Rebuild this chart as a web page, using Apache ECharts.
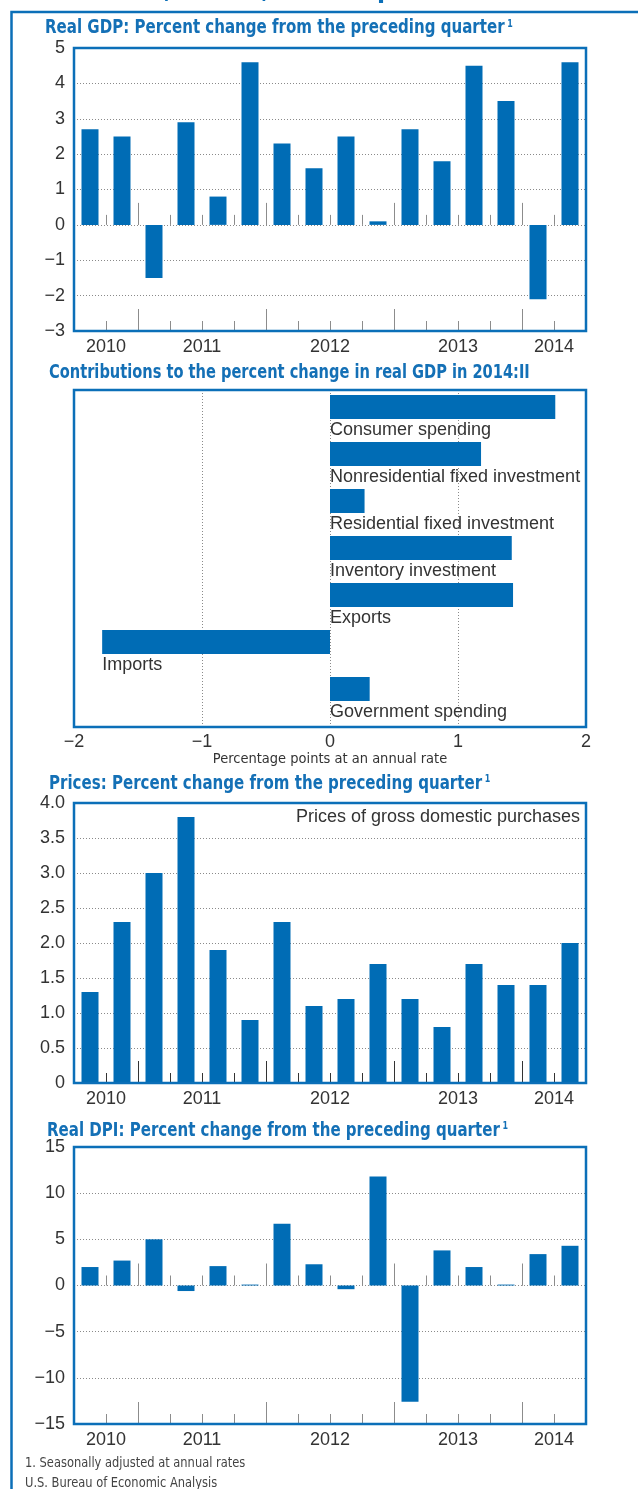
<!DOCTYPE html>
<html>
<head>
<meta charset="utf-8">
<title>Real GDP, prices and real DPI</title>
<script src="https://cdn.jsdelivr.net/npm/echarts@6/dist/echarts.min.js"></script>
<style>
  html, body { margin: 0; padding: 0; background: #fff; }
  #chart { width: 638px; height: 1489px; }
</style>
</head>
<body>
<div id="chart"></div>
<script>
// quarters shown on the three time panels
var quarters = ['2010 Q3', '2010 Q4',
  '2011 Q1', '2011 Q2', '2011 Q3', '2011 Q4',
  '2012 Q1', '2012 Q2', '2012 Q3', '2012 Q4',
  '2013 Q1', '2013 Q2', '2013 Q3', '2013 Q4',
  '2014 Q1', '2014 Q2'];

var gdpGrowth = [2.7, 2.5, -1.5, 2.9, 0.8, 4.6, 2.3, 1.6, 2.5, 0.1, 2.7, 1.8, 4.5, 3.5, -2.1, 4.6];
var priceGrowth = [1.3, 2.3, 3.0, 3.8, 1.9, 0.9, 2.3, 1.1, 1.2, 1.7, 1.2, 0.8, 1.7, 1.4, 1.4, 2.0];
var dpiGrowth = [2.0, 2.7, 5.0, -0.6, 2.1, 0.1, 6.7, 2.3, -0.4, 11.8, -12.6, 3.8, 2.0, 0.1, 3.4, 4.3];

var contribNames = ['Consumer spending', 'Nonresidential fixed investment',
  'Residential fixed investment', 'Inventory investment', 'Exports', 'Imports',
  'Government spending'];
var contribValues = [1.76, 1.18, 0.27, 1.42, 1.43, -1.78, 0.31];

// axis ranges: [min, max, step]
var gdpRange = [-3, 5, 1];
var contribRange = [-2, 2, 1];
var priceRange = [0, 4, 0.5];
var dpiRange = [-15, 15, 5];

var BLUE = '#0b6fb8';
var BAR = '#006cb5';
var TITLE = '#1470b6';
var TEXT = '#333';
var FONT = '"Liberation Sans", Arial, sans-serif';
var NARROW = '"DejaVu Sans Condensed", sans-serif';

// year label sits in the middle of that year's quarters
var yearIdx = {};
quarters.forEach(function (q, i) {
  var y = q.slice(0, 4);
  (yearIdx[y] = yearIdx[y] || []).push(i);
});
function yearAt(v) {
  for (var y in yearIdx) {
    var a = yearIdx[y];
    if ((a[0] + a[a.length - 1] + 1) / 2 === v) return y;
  }
  return '';
}
function isYearStart(i, val) { return /Q1$/.test(val); }
function minus(v) { return String(v).replace('-', '\u2212'); }

var grids = [], xAxes = [], yAxes = [], series = [];

function gridBox(top, height) {
  return {left: 74, right: 52, top: top, height: height, show: true, z: 5,
    borderColor: BLUE, borderWidth: 2.5, backgroundColor: 'transparent'};
}
function dotted() {
  return {show: true, lineStyle: {color: '#8a8a8a', type: [1, 2], width: 1}};
}

function quarterPanel(top, height, values, range, fmt, tickColor, zeroTicks) {
  var g = grids.length;
  grids.push(gridBox(top, height));
  var yi = yAxes.length;
  yAxes.push({type: 'value', gridIndex: g, min: range[0], max: range[1], interval: range[2],
    axisLine: {show: false}, axisTick: {show: false},
    axisLabel: {color: TEXT, fontSize: 18, fontFamily: FONT, margin: 9, formatter: fmt},
    splitLine: dotted()});
  var barAxis = xAxes.length;
  function tickAxis(onZero, tall) {
    return {type: 'category', gridIndex: g, data: quarters, position: 'bottom', boundaryGap: true,
      axisLine: {show: false, onZero: onZero, onZeroAxisIndex: yi},
      axisTick: {show: true, inside: true, length: tall ? 22 : 10,
        interval: tall ? isYearStart : 0, lineStyle: {color: tickColor, width: 1}},
      axisLabel: {show: false}, splitLine: {show: false}};
  }
  if (zeroTicks) {
    xAxes.push(tickAxis(true, false));
    xAxes.push(tickAxis(true, true));
  }
  xAxes.push(tickAxis(false, false));
  xAxes.push(tickAxis(false, true));
  xAxes.push({type: 'value', gridIndex: g, min: 0, max: quarters.length, interval: 1,
    position: 'bottom', axisLine: {show: false, onZero: false}, axisTick: {show: false},
    splitLine: {show: false},
    axisLabel: {color: TEXT, fontSize: 18, fontFamily: FONT, margin: 7, formatter: yearAt}});
  series.push({type: 'bar', xAxisIndex: barAxis, yAxisIndex: yi, data: values,
    barWidth: 17, itemStyle: {color: BAR}, silent: true});
}

// panel 1: real GDP
quarterPanel(48, 283, gdpGrowth, gdpRange, minus, '#8c8c8c', true);

// panel 2: contributions (frame grid + bar grid)
var gFrame = grids.length;
grids.push(gridBox(390, 337));
yAxes.push({type: 'value', gridIndex: gFrame, min: 0, max: 1, show: false});
xAxes.push({type: 'value', gridIndex: gFrame, min: contribRange[0], max: contribRange[1],
  interval: contribRange[2], position: 'bottom',
  axisLine: {show: false, onZero: false}, axisTick: {show: false},
  axisLabel: {color: TEXT, fontSize: 18, fontFamily: FONT, margin: 6, formatter: minus},
  splitLine: dotted(),
  name: 'Percentage points at an annual rate', nameLocation: 'middle', nameGap: 24,
  nameTextStyle: {color: TEXT, fontSize: 14.5, fontFamily: NARROW}});
var gBars = grids.length;
grids.push({left: 74, right: 52, top: 383.5, height: 329, show: false});
var cy = yAxes.length;
yAxes.push({type: 'category', gridIndex: gBars, data: contribNames, inverse: true, show: false});
var cx = xAxes.length;
xAxes.push({type: 'value', gridIndex: gBars, min: contribRange[0], max: contribRange[1], show: false});
series.push({type: 'bar', xAxisIndex: cx, yAxisIndex: cy, data: contribValues, barWidth: 24,
  itemStyle: {color: BAR}, silent: true,
  label: {show: true, position: [0, 26], color: TEXT, fontSize: 18, fontFamily: FONT,
    formatter: function (p) { return p.name; }}});

// panel 3: prices
quarterPanel(803, 280, priceGrowth, priceRange,
  function (v) { return v === 0 ? '0' : v.toFixed(1); }, '#333', false);

// panel 4: real DPI
quarterPanel(1147, 277, dpiGrowth, dpiRange, minus, '#8c8c8c', true);

function title(x, y, text, sup, sx) {
  return {type: 'text', x: x, y: y, z: 10, scaleX: sx || 0.88, style: {
    text: '{t|' + text + '}' + (sup ? '{s|1}' : ''),
    textVerticalAlign: 'middle',
    rich: {
      t: {fill: TITLE, fontSize: 19, fontWeight: 'bold', fontFamily: NARROW},
      s: {fill: TITLE, fontSize: 10, fontWeight: 'bold', fontFamily: NARROW,
        verticalAlign: 'top', padding: [0, 0, 0, 3]}
    }}};
}
function note(y, text) {
  return {type: 'text', x: 25, y: y, z: 10, scaleX: 0.91, style: {text: text,
    font: '14px ' + NARROW, fill: '#444', textVerticalAlign: 'middle'}};
}

var graphics = [
  {type: 'polyline', z: 10, shape: {points: [[11.5, 1500], [11.5, 12], [650, 12]]},
    style: {stroke: BLUE, lineWidth: 2.5, fill: null}},
  {type: 'text', x: 47, y: 3, z: 10, style: {
    text: 'Real GDP, Prices, and Disposable Personal Income (2014:II)',
    font: 'bold 26px ' + NARROW, fill: BLUE, textVerticalAlign: 'bottom'}},
  title(45, 28.5, 'Real GDP: Percent change from the preceding quarter', true),
  title(49, 373.5, 'Contributions to the percent change in real GDP in 2014:II', false, 0.855),
  title(49, 783.7, 'Prices: Percent change from the preceding quarter', true),
  title(47, 1131, 'Real DPI: Percent change from the preceding quarter', true),
  {type: 'text', x: 580, y: 817, z: 10, style: {text: 'Prices of gross domestic purchases',
    font: '18px ' + FONT, fill: TEXT, textAlign: 'right', textVerticalAlign: 'middle'}},
  note(1463, '1. Seasonally adjusted at annual rates'),
  note(1483, 'U.S. Bureau of Economic Analysis')
];

var chart = echarts.init(document.getElementById('chart'), null, {renderer: 'canvas'});
chart.setOption({
  animation: false,
  backgroundColor: '#fff',
  grid: grids,
  xAxis: xAxes,
  yAxis: yAxes,
  series: series,
  graphic: graphics
});
</script>
</body>
</html>
